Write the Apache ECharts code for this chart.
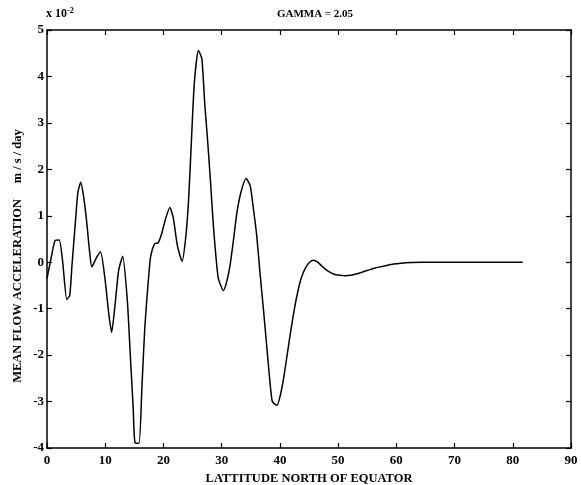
<!DOCTYPE html>
<html><head><meta charset="utf-8">
<script src="https://cdn.jsdelivr.net/npm/echarts@6/dist/echarts.min.js"></script>
<style>html,body{margin:0;padding:0;background:#fff}#c{width:581px;height:485px}</style>
</head><body><div id="c"></div>
<script>
const latitude = [0,0.8,1.4,2.1,2.7,3.4,3.9,4.3,4.9,5.3,5.8,6.3,6.8,7.3,7.7,8.5,9.2,10.0,10.6,11.1,11.7,12.3,13.0,13.8,14.3,14.8,15.1,15.8,16.3,16.8,17.4,17.8,18.5,19.1,19.7,20.4,21.1,21.7,22.4,23.2,23.8,24.3,24.8,25.3,26.0,26.6,27.1,27.6,28.1,28.6,29.4,30.3,30.8,31.4,32.0,32.6,33.3,34.2,34.9,35.4,36.0,36.6,37.2,37.7,38.2,38.7,39.5,40.1,40.7,41.3,41.9,42.5,43.1,43.7,44.4,45.1,45.8,46.5,47.2,47.8,48.5,49.3,50.2,51.2,52.2,53.2,54.2,55.2,56.2,57.2,58.3,59.5,60.8,62.5,64.5,67,70,75,81.7];
const acceleration = [-0.35,0.15,0.47,0.48,0.0,-0.8,-0.72,-0.05,0.9,1.5,1.72,1.4,0.89,0.25,-0.1,0.1,0.22,-0.4,-1.1,-1.51,-0.9,-0.18,0.13,-0.83,-1.98,-3.13,-3.88,-3.9,-2.7,-1.4,-0.4,0.12,0.4,0.42,0.62,0.95,1.18,0.95,0.35,0.02,0.5,1.3,2.6,3.85,4.56,4.38,3.4,2.6,1.7,0.75,-0.33,-0.61,-0.45,-0.1,0.45,1.05,1.5,1.8,1.65,1.2,0.6,-0.25,-1.05,-1.75,-2.45,-3.0,-3.08,-2.85,-2.45,-1.95,-1.45,-1.0,-0.62,-0.33,-0.12,0.0,0.04,0.0,-0.08,-0.15,-0.21,-0.26,-0.28,-0.29,-0.28,-0.25,-0.21,-0.17,-0.13,-0.1,-0.07,-0.04,-0.02,-0.005,0,0,0,0,0];
const xTicks = [0,10,20,30,40,50,60,70,80,90];
const yTicks = [-4,-3,-2,-1,0,1,2,3,4,5];
const titleText = 'GAMMA = 2.05';
const xName = 'LATTITUDE NORTH OF EQUATOR';
const yName = 'MEAN FLOW ACCELERATION     m / s / day';

const font = 'Liberation Serif';
const chart = echarts.init(document.getElementById('c'));
const pairs = latitude.map((x,i)=>[x, acceleration[i]]);
const axisCommon = {
  axisLine:{show:true, onZero:false, lineStyle:{color:'#000', width:1.5}},
  axisTick:{show:true, inside:true, length:5, lineStyle:{color:'#000', width:1.2}},
  splitLine:{show:false}
};
chart.setOption({
  animation:false,
  backgroundColor:'#fff',
  title:{text:titleText, left:310, top:4, textAlign:'center',
    textStyle:{fontFamily:font, fontSize:11, fontWeight:'bold', color:'#000'}},
  grid:{left:47, right:10, top:30, bottom:37, containLabel:false, outerBoundsMode:'none'},
  graphic:[
    {type:'text', left:46, top:7, style:{
      rich:{a:{fontFamily:font,fontSize:12,fontWeight:'bold',fill:'#000'},
            s:{fontFamily:font,fontSize:8,fontWeight:'bold',fill:'#000',verticalAlign:'top',padding:[0,0,6,0]}},
      text:'{a|x 10}{s|-2}'}},
    {type:'text', x:18, y:256, rotation:Math.PI/2, style:{
      text:yName, fontFamily:font, fontSize:12.5, fontWeight:'bold', fill:'#000',
      align:'center', verticalAlign:'middle'}}
  ],
  xAxis:[
    Object.assign({type:'value', min:0, max:90, interval:10, position:'bottom',
      name:xName, nameLocation:'middle', nameGap:21,
      nameTextStyle:{fontFamily:font, fontSize:12.5, fontWeight:'bold', color:'#000'},
      axisLabel:{fontFamily:font, fontSize:13, fontWeight:'bold', color:'#000', margin:6,
        formatter:v=>xTicks.includes(v)?String(v):''}}, axisCommon),
    Object.assign({type:'value', min:0, max:90, interval:10, position:'top', axisLabel:{show:false}}, axisCommon)
  ],
  yAxis:[
    Object.assign({type:'value', min:-4, max:5, interval:1, position:'left',
      axisLabel:{fontFamily:font, fontSize:13, fontWeight:'bold', color:'#000', margin:3,
        formatter:v=>yTicks.includes(v)?String(v):''}}, axisCommon),
    Object.assign({type:'value', min:-4, max:5, interval:1, position:'right', axisLabel:{show:false}}, axisCommon)
  ],
  series:[{type:'line', data:pairs, showSymbol:false, smooth:0.2,
    lineStyle:{color:'#000', width:1.5}}]
});
</script></body></html>
